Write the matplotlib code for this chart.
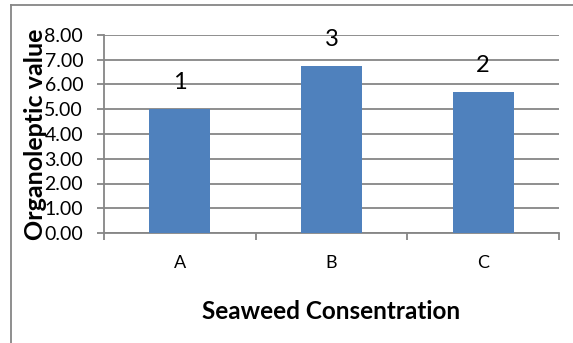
import numpy as np
import matplotlib
matplotlib.use("Agg")
import matplotlib.pyplot as plt
from matplotlib.lines import Line2D

plt.rcParams["font.family"] = ["Lato", "DejaVu Sans"]

categories = ["A", "B", "C"]
values = [5.00, 6.75, 5.68]
rank_labels = ["1", "3", "2"]
y_ticks = [0, 1, 2, 3, 4, 5, 6, 7, 8]

grey = "#868686"
bar_color = "#4F81BD"

fig = plt.figure(figsize=(5.73, 3.43), dpi=100)
ax = fig.add_axes([104/573, 1-233/343, (559-104)/573, (233-35)/343])

x = np.arange(len(categories))
ax.bar(x, values, width=0.4, color=bar_color, zorder=3)
for xi, v, lab in zip(x, values, rank_labels):
    ax.annotate(lab, (xi, v), xytext=(0, 16), textcoords="offset pixels",
                ha="center", va="bottom", fontsize=17)

ax.set_xlim(-0.5, 2.5)
ax.set_ylim(0, 8)
ax.set_yticks(y_ticks)
ax.set_yticklabels(["%.2f" % t for t in y_ticks], fontsize=14)
ax.yaxis.grid(True, color=grey, linewidth=1.3, zorder=0)
ax.set_axisbelow(True)

ax.set_xticks(x)
ax.set_xticklabels(categories, fontsize=13)
ax.set_xticks([-0.5, 0.5, 1.5, 2.5], minor=True)
ax.tick_params(axis="x", which="major", length=0, pad=16)
ax.tick_params(axis="x", which="minor", length=5, color=grey, width=1.3)
ax.tick_params(axis="y", length=5, color=grey, width=1.3, pad=10)

for s in ["top", "right"]:
    ax.spines[s].set_visible(False)
for s in ["left", "bottom"]:
    ax.spines[s].set_color(grey)
    ax.spines[s].set_linewidth(1.3)

ax.set_xlabel("Seaweed Consentration", fontsize=17.5, fontweight="bold", labelpad=21)
ax.set_ylabel("Organoleptic value", fontsize=18, fontweight="bold", labelpad=-2)

# chart frame (only top and left edges visible)
fig.add_artist(Line2D([11/573, 11/573], [0, 1-5/343], color=grey, linewidth=1.3))
fig.add_artist(Line2D([11/573, 1], [1-5/343, 1-5/343], color=grey, linewidth=1.3))

fig.savefig("out.png", dpi=100)
